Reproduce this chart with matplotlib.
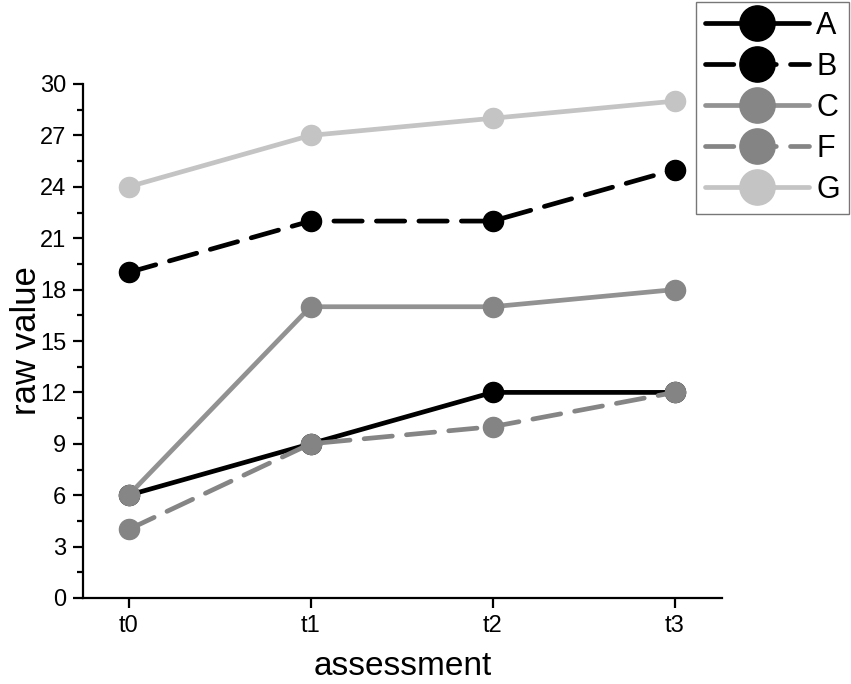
import matplotlib
matplotlib.use("Agg")
import matplotlib.pyplot as plt
from matplotlib.ticker import MultipleLocator

plt.rcParams['font.family'] = ['Liberation Sans', 'DejaVu Sans']

categories = ["t0", "t1", "t2", "t3"]
series_names = ["A", "B", "C", "F", "G"]
A = [6, 9, 12, 12]
B = [19, 22, 22, 25]
C = [6, 17, 17, 18]
F = [4, 9, 10, 12]
G = [24, 27, 28, 29]
values = [A, B, C, F, G]

line_colors = ["#000000", "#000000", "#929292", "#858585", "#c4c4c4"]
marker_colors = ["#000000", "#000000", "#868686", "#848484", "#c4c4c4"]
dash = (0, (6, 3))
styles = ["-", dash, "-", dash, "-"]

fig = plt.figure(figsize=(8.51, 6.84), dpi=100)
ax = fig.add_axes([83/851, 86/684, (722-83)/851, (598-84)/684])

x = list(range(len(categories)))
handles = []
for name, vals, lc, mc, ls in zip(series_names, values, line_colors, marker_colors, styles):
    h, = ax.plot(x, vals, color=lc, linestyle=ls, linewidth=3.4,
                 marker='o', markersize=14.5, markerfacecolor=mc,
                 markeredgecolor=mc, label=name, solid_capstyle='round',
                 dash_capstyle='round', clip_on=False)
    handles.append(h)

ax.set_xlim(-0.25, 3.26)
ax.set_ylim(0, 30)
ax.set_xticks(x)
ax.set_xticklabels(categories)
ax.yaxis.set_major_locator(MultipleLocator(3))
ax.yaxis.set_minor_locator(MultipleLocator(1.5))
ax.spines['top'].set_visible(False)
ax.spines['right'].set_visible(False)
for s in ['left', 'bottom']:
    ax.spines[s].set_linewidth(1.6)
ax.tick_params(axis='both', which='major', direction='out', length=7, width=1.6,
               labelsize=17, pad=5)
ax.tick_params(axis='y', which='minor', direction='out', length=4, width=1.6)
ax.set_xlabel("assessment", fontsize=24, labelpad=10)
ax.set_ylabel("raw value", fontsize=25, labelpad=-2)

leg = fig.legend(handles=handles, loc='upper right',
                 bbox_to_anchor=(849/851, 682/684), fontsize=22,
                 markerscale=1.75, handlelength=3.4, handletextpad=0.25,
                 labelspacing=0.36, borderpad=0.3, borderaxespad=0.0,
                 frameon=True, fancybox=False, edgecolor='#555555')
leg.get_frame().set_linewidth(1.0)

fig.savefig("out.png", dpi=100)
